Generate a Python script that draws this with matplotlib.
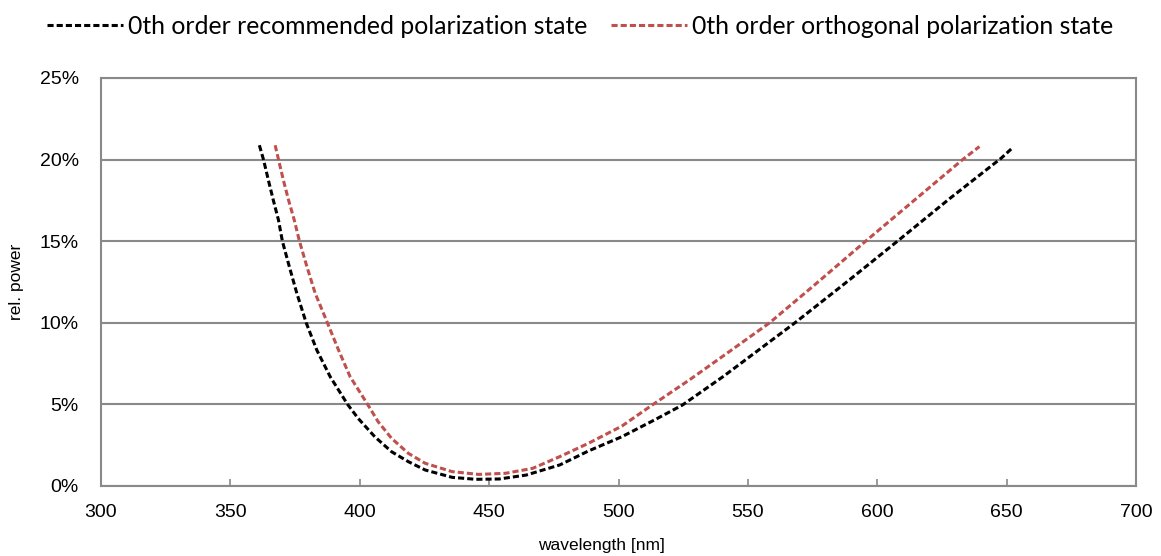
import numpy as np
import matplotlib.pyplot as plt

# values (wavelength in nm, relative power in %)
wl_rec = [361.2, 362.8, 364.7, 366.6, 368.6, 370.1, 372.8, 375.7, 379.3, 383.4,
          388.6, 395.3, 399.4, 405.8, 412.3, 418.8, 425.3, 435.7, 444.8, 453.9,
          464.3, 477.3, 488.3, 501.3, 514.3, 524.7, 540.3, 550.0, 568.2, 589.0,
          607.8, 627.9, 648.0, 652.6]
p_rec = [20.88, 20.0, 18.73, 17.51, 16.29, 15.0, 13.43, 11.8, 10.0, 8.33,
         6.69, 5.0, 4.14, 3.02, 2.10, 1.49, 0.98, 0.53, 0.41, 0.43,
         0.67, 1.29, 2.14, 3.02, 4.08, 4.96, 6.69, 7.84, 10.0, 12.6,
         15.0, 17.6, 20.1, 20.77]

wl_orth = [367.3, 368.6, 370.5, 372.5, 374.7, 376.7, 379.6, 382.8, 387.5, 391.8,
           396.3, 403.2, 407.1, 412.3, 418.8, 425.3, 435.7, 446.0, 456.4, 466.8,
           477.3, 488.3, 501.3, 513.0, 527.3, 540.3, 558.4, 576.0, 595.5, 615.0,
           633.0, 639.5]
p_orth = [20.88, 20.0, 18.73, 17.51, 16.29, 15.0, 13.43, 11.8, 10.0, 8.33,
          6.69, 4.96, 3.94, 2.92, 2.00, 1.39, 0.88, 0.71, 0.78, 1.08,
          1.80, 2.61, 3.67, 4.96, 6.49, 7.95, 10.0, 12.35, 15.0, 17.6,
          20.0, 20.8]

labels = ["0th order recommended polarization state",
          "0th order orthogonal polarization state"]

grey = "#898989"

fig = plt.figure(figsize=(11.61, 5.56), dpi=100)
ax = fig.add_axes([101 / 1161, 1 - 486 / 556, 1035 / 1161, 408 / 556])

dash = (0, (2.0, 1.0))
ax.plot(wl_rec, np.array(p_rec) / 100, color="black", lw=2.2, linestyle=dash, label=labels[0])
ax.plot(wl_orth, np.array(p_orth) / 100, color="#C0504D", lw=2.2, linestyle=dash, label=labels[1])

ax.set_xlim(300, 700)
ax.set_ylim(0, 0.25)
ax.set_xticks(np.arange(300, 701, 50))
ax.set_yticks(np.arange(0, 0.251, 0.05))
ax.set_yticklabels([f"{int(round(v * 100))}%" for v in np.arange(0, 0.251, 0.05)])
ax.yaxis.grid(True, color=grey, lw=1.5)
ax.set_axisbelow(True)

for s in ax.spines.values():
    s.set_color(grey)
    s.set_linewidth(1.5)

ax.tick_params(axis="x", direction="in", length=5, width=1.2, color=grey,
               labelsize=14, pad=13)
ax.tick_params(axis="y", length=0, labelsize=14, pad=16)
for t in ax.get_xticklabels() + ax.get_yticklabels():
    t.set_family("Liberation Sans")

ax.set_xlabel("wavelength [nm]", family="Liberation Sans", fontsize=12.5,
              labelpad=12, x=0.484)
ax.set_ylabel("rel. power", family="Liberation Sans", fontsize=12.5, labelpad=11)

fig.legend(loc="center", bbox_to_anchor=(580 / 1161, 1 - 26 / 556), ncol=2,
           frameon=False, prop={"family": "Lato", "size": 17.8},
           handlelength=3.08, handletextpad=0.2, columnspacing=0.95)

fig.savefig("out.png", dpi=100)
